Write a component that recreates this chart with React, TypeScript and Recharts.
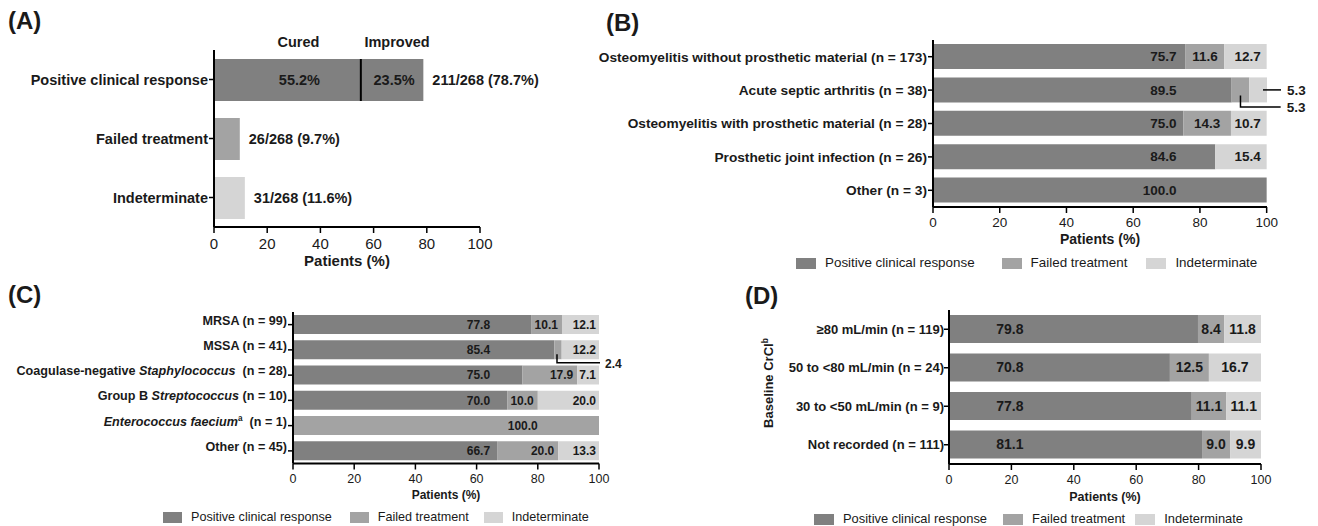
import React from 'react';
import { BarChart, Bar, XAxis, YAxis, LabelList } from 'recharts';

const FONT = '"Liberation Sans", Arial, Helvetica, sans-serif';
const INK = '#1a1a1a';
const C_POS = '#808080';
const C_FAIL = '#a3a3a3';
const C_IND = '#d5d5d5';

const seriesNames = ['Positive clinical response', 'Failed treatment', 'Indeterminate'];
const seriesColors = [C_POS, C_FAIL, C_IND];
const xTicks = [0, 20, 40, 60, 80, 100];

// (A) overall response
const aCategories = ['Positive clinical response', 'Failed treatment', 'Indeterminate'];
const aCured = [55.2, 0, 0];
const aImproved = [23.5, 0, 0];
const aFailed = [0, 9.7, 0];
const aIndeterminate = [0, 0, 11.6];
const aTotals = ['211/268 (78.7%)', '26/268 (9.7%)', '31/268 (11.6%)'];

// (B) by infection type
const bCategories = [
  'Osteomyelitis without prosthetic material (n = 173)',
  'Acute septic arthritis (n = 38)',
  'Osteomyelitis with prosthetic material (n = 28)',
  'Prosthetic joint infection (n = 26)',
  'Other (n = 3)',
];
const bPositive = [75.7, 89.5, 75.0, 84.6, 100.0];
const bFailed = [11.6, 5.3, 14.3, 0, 0];
const bIndeterminate = [12.7, 5.3, 10.7, 15.4, 0];

// (C) by pathogen (*italic*, ^superscript)
const cCategories = [
  'MRSA (n = 99)',
  'MSSA (n = 41)',
  'Coagulase-negative *Staphylococcus*  (n = 28)',
  'Group B *Streptococcus* (n = 10)',
  '*Enterococcus faecium*^a  (n = 1)',
  'Other (n = 45)',
];
const cPositive = [77.8, 85.4, 75.0, 70.0, 0, 66.7];
const cFailed = [10.1, 2.4, 17.9, 10.0, 100.0, 20.0];
const cIndeterminate = [12.1, 12.2, 7.1, 20.0, 0, 13.3];

// (D) by baseline CrCl
const dCategories = [
  '≥80 mL/min  (n = 119)',
  '50 to <80 mL/min  (n = 24)',
  '30 to <50 mL/min  (n = 9)',
  'Not recorded (n = 111)',
];
const dPositive = [79.8, 70.8, 77.8, 81.1];
const dFailed = [8.4, 12.5, 11.1, 9.0];
const dIndeterminate = [11.8, 16.7, 11.1, 9.9];

// end-of-row text goes on whichever segment closes the row
const aRows = aCategories.map((name, i) => ({
  name,
  cured: aCured[i],
  improved: aImproved[i],
  fail: aFailed[i],
  ind: aIndeterminate[i],
  impEnd: aImproved[i] ? aTotals[i] : '',
  failEnd: aFailed[i] ? aTotals[i] : '',
  indEnd: aIndeterminate[i] ? aTotals[i] : '',
}));
const bRows = bCategories.map((name, i) => ({ name, pos: bPositive[i], fail: bFailed[i], ind: bIndeterminate[i] }));
const cRows = cCategories.map((name, i) => ({ name, pos: cPositive[i], fail: cFailed[i], ind: cIndeterminate[i] }));
const dRows = dCategories.map((name, i) => ({ name, pos: dPositive[i], fail: dFailed[i], ind: dIndeterminate[i] }));

function box(p: any) {
  const v = p.viewBox ?? p;
  return { x: Number(v.x), y: Number(v.y), w: Number(v.width), h: Number(v.height) };
}

function txt(x: number, y: number, s: string, anchor: string, size: number) {
  return (
    <text x={x} y={y} dy="0.355em" textAnchor={anchor} fontSize={size} fontWeight="bold" fontFamily={FONT} fill={INK}>
      {s}
    </text>
  );
}

// ---- panel A labels
const aCuredLabel = (p: any) => {
  const { x, y, w, h } = box(p);
  if (!Number(p.value)) return null;
  return (
    <g>
      {txt(x + w / 2 + 11, y - 17, 'Cured', 'middle', 14.5)}
      {txt(x + w / 2 + 12, y + h / 2, `${Number(p.value).toFixed(1)}%`, 'middle', 14.5)}
    </g>
  );
};
const aImprovedLabel = (p: any) => {
  const { x, y, w, h } = box(p);
  if (!Number(p.value)) return null;
  return (
    <g>
      {txt(x + w / 2 + 5, y - 17, 'Improved', 'middle', 14.5)}
      {txt(x + w / 2 + 2, y + h / 2, `${Number(p.value).toFixed(1)}%`, 'middle', 14.5)}
    </g>
  );
};
const aEndLabel = (p: any) => {
  const { x, y, w, h } = box(p);
  if (!p.value) return null;
  return txt(x + w + 9, y + h / 2, String(p.value), 'start', 14.5);
};
const ImprovedShape = (p: any) => {
  if (!p.width) return <g />;
  return (
    <g>
      <rect x={p.x} y={p.y} width={p.width} height={p.height} fill={p.fill} />
      <line x1={p.x} x2={p.x} y1={p.y} y2={p.y + p.height} stroke="#000" strokeWidth={2} />
    </g>
  );
};

// ---- panel B labels
const bPosLabel = (p: any) => {
  const { x, y, w, h } = box(p);
  const v = Number(p.value);
  if (!v) return null;
  return txt(x + (w / v) * 73, y + h / 2, v.toFixed(1), 'end', 13.5);
};
const bFailLabel = (p: any) => {
  const { x, y, w, h } = box(p);
  const v = Number(p.value);
  if (!v) return null;
  if (v >= 6) return txt(x + w / 2, y + h / 2, v.toFixed(1), 'middle', 13.5);
  const ppu = w / v;
  const right = x + (100 - bPositive[p.index]) * ppu;
  const lx = x + w / 2;
  const ly = y + h + 4.5;
  return (
    <g>
      <polyline points={`${lx},${y + h - 7} ${lx},${ly} ${right + 14},${ly}`} fill="none" stroke="#000" strokeWidth={1.5} />
      {txt(right + 20, ly, v.toFixed(1), 'start', 13.5)}
    </g>
  );
};
const bIndLabel = (p: any) => {
  const { x, y, w, h } = box(p);
  const v = Number(p.value);
  if (!v) return null;
  const cy = y + h / 2;
  if (v >= 6) return txt(x + w - 6, cy, v.toFixed(1), 'end', 13.5);
  return (
    <g>
      <line x1={x + w - 4} x2={x + w + 14} y1={cy} y2={cy} stroke="#000" strokeWidth={1.5} />
      {txt(x + w + 20, cy, v.toFixed(1), 'start', 13.5)}
    </g>
  );
};

// ---- panel C labels
const cPosLabel = (p: any) => {
  const { x, y, w, h } = box(p);
  const v = Number(p.value);
  if (!v) return null;
  return txt(x + (w / v) * 64.4, y + h / 2, v.toFixed(1), 'end', 12);
};
const cFailLabel = (p: any) => {
  const { x, y, w, h } = box(p);
  const v = Number(p.value);
  if (!v) return null;
  const ppu = w / v;
  if (v >= 100) return txt(x + 80 * ppu, y + h / 2, v.toFixed(1), 'end', 12);
  if (v >= 3) return txt(x + w - 4, y + h / 2, v.toFixed(1), 'end', 12);
  const right = x + (100 - cPositive[p.index]) * ppu;
  const lx = x + w / 2 - 1;
  const ly = y + h + 3.5;
  return (
    <g>
      <polyline points={`${lx},${y + h - 5} ${lx},${ly} ${right + 1},${ly}`} fill="none" stroke="#000" strokeWidth={1.5} />
      {txt(right + 6, ly + 0.5, v.toFixed(1), 'start', 12)}
    </g>
  );
};
const cIndLabel = (p: any) => {
  const { x, y, w, h } = box(p);
  const v = Number(p.value);
  if (!v) return null;
  return txt(x + w - 3, y + h / 2, v.toFixed(1), 'end', 12);
};

// ---- panel D labels
const dPosLabel = (p: any) => {
  const { x, y, w, h } = box(p);
  const v = Number(p.value);
  if (!v) return null;
  return txt(x + (w / v) * 19.5, y + h / 2, v.toFixed(1), 'middle', 14);
};
const dCenterLabel = (p: any) => {
  const { x, y, w, h } = box(p);
  const v = Number(p.value);
  if (!v) return null;
  return txt(x + w / 2, y + h / 2, v.toFixed(1), 'middle', 14);
};

// category tick with *italic* and ^superscript segments
function RichTick(props: any) {
  const { x, y, payload, fontSize } = props;
  const parts = String(payload.value).split(/(\*[^*]+\*|\^\w)/).filter(s => s !== '');
  const out: React.ReactNode[] = [];
  let raised = false;
  parts.forEach((s, i) => {
    if (s.startsWith('*')) {
      out.push(<tspan key={i} fontStyle="italic" dy={raised ? 5 : 0}>{s.slice(1, -1)}</tspan>);
      raised = false;
    } else if (s.startsWith('^')) {
      out.push(<tspan key={i} fontSize={fontSize * 0.65} dy={-5}>{s.slice(1)}</tspan>);
      raised = true;
    } else {
      out.push(<tspan key={i} dy={raised ? 5 : 0}>{s}</tspan>);
      raised = false;
    }
  });
  return (
    <text x={x} y={y} dy="0.355em" textAnchor="end" fontSize={fontSize} fontWeight="bold" fontFamily={FONT} fill={INK} style={{ whiteSpace: 'pre' }}>
      {out}
    </text>
  );
}

const axisLine = { stroke: '#000', strokeWidth: 2 };
const tickLine = { stroke: '#000', strokeWidth: 1.5 };

function xAxisFor(size: number, titleSize: number, tickMargin: number, offset: number) {
  return (
    <XAxis
      type="number"
      domain={[0, 100]}
      ticks={xTicks}
      interval={0}
      height={40}
      tickSize={6}
      tickMargin={tickMargin}
      axisLine={axisLine}
      tickLine={tickLine}
      tick={{ fill: INK, fontSize: size, fontFamily: FONT }}
      label={{ value: 'Patients (%)', position: 'insideBottom', offset, fill: INK, fontSize: titleSize, fontWeight: 'bold', fontFamily: FONT }}
    />
  );
}

function SwatchLegend({ left, top, fontSize, gaps, swatch }: { left: number; top: number; fontSize: number; gaps: number[]; swatch: number }) {
  return (
    <div style={{ position: 'absolute', left, top: top - 7, height: 14, display: 'flex', alignItems: 'center', fontFamily: FONT, fontSize, color: INK, whiteSpace: 'nowrap', lineHeight: 1 }}>
      {seriesNames.map((n, i) => (
        <div key={n} style={{ display: 'flex', alignItems: 'center', marginRight: gaps[i] ?? 0 }}>
          <span style={{ display: 'inline-block', width: swatch, height: 11, background: seriesColors[i], marginRight: 9 }} />
          <span>{n}</span>
        </div>
      ))}
    </div>
  );
}

function PanelTag({ left, cy, text }: { left: number; cy: number; text: string }) {
  return (
    <div style={{ position: 'absolute', left, top: cy - 12, fontFamily: FONT, fontWeight: 'bold', fontSize: 24, lineHeight: 1, color: INK }}>
      {text}
    </div>
  );
}

export default function App() {
  return (
    <div style={{ position: 'absolute', left: 0, top: 0, width: 1318, height: 526, background: '#fff', overflow: 'hidden' }}>
      <PanelTag left={8} cy={21} text="(A)" />
      <PanelTag left={606} cy={23} text="(B)" />
      <PanelTag left={8} cy={295} text="(C)" />
      <PanelTag left={745} cy={296} text="(D)" />

      <div style={{ position: 'absolute', left: 0, top: 0 }}>
        <BarChart width={560} height={280} data={aRows} layout="vertical" barSize={42} margin={{ top: 50, right: 80, bottom: 13, left: 0 }}>
          {xAxisFor(15, 15, 5, 1.5)}
          <YAxis type="category" dataKey="name" width={214} tickSize={5} tickMargin={1} axisLine={axisLine} tickLine={tickLine}
            tick={{ fill: INK, fontSize: 14.5, fontWeight: 'bold', fontFamily: FONT }} />
          <Bar dataKey="cured" stackId="a" fill={C_POS} isAnimationActive={false}>
            <LabelList dataKey="cured" content={aCuredLabel} />
          </Bar>
          <Bar dataKey="improved" stackId="a" fill={C_POS} shape={ImprovedShape} isAnimationActive={false}>
            <LabelList dataKey="improved" content={aImprovedLabel} />
            <LabelList dataKey="impEnd" content={aEndLabel} />
          </Bar>
          <Bar dataKey="fail" stackId="a" fill={C_FAIL} isAnimationActive={false}>
            <LabelList dataKey="failEnd" content={aEndLabel} />
          </Bar>
          <Bar dataKey="ind" stackId="a" fill={C_IND} isAnimationActive={false}>
            <LabelList dataKey="indEnd" content={aEndLabel} />
          </Bar>
        </BarChart>
      </div>

      <div style={{ position: 'absolute', left: 580, top: 0 }}>
        <BarChart width={738} height={280} data={bRows} layout="vertical" barSize={25} margin={{ top: 40, right: 51, bottom: 33, left: 0 }}>
          {xAxisFor(13.5, 14, 4, 3.5)}
          <YAxis type="category" dataKey="name" width={353} tickSize={5} tickMargin={1} axisLine={axisLine} tickLine={tickLine}
            tick={{ fill: INK, fontSize: 13.7, fontWeight: 'bold', fontFamily: FONT }} />
          <Bar dataKey="pos" stackId="s" fill={C_POS} isAnimationActive={false}>
            <LabelList dataKey="pos" content={bPosLabel} />
          </Bar>
          <Bar dataKey="fail" stackId="s" fill={C_FAIL} isAnimationActive={false}>
            <LabelList dataKey="fail" content={bFailLabel} />
          </Bar>
          <Bar dataKey="ind" stackId="s" fill={C_IND} isAnimationActive={false}>
            <LabelList dataKey="ind" content={bIndLabel} />
          </Bar>
        </BarChart>
      </div>
      <SwatchLegend left={796} top={263} fontSize={13.4} gaps={[27, 19]} swatch={20} />

      <div style={{ position: 'absolute', left: 0, top: 280 }}>
        <BarChart width={640} height={246} data={cRows} layout="vertical" barSize={19} margin={{ top: 32, right: 41, bottom: 22.5, left: 0 }}>
          {xAxisFor(12.5, 12, 5, 5)}
          <YAxis type="category" dataKey="name" width={293} tickSize={5} tickMargin={1} axisLine={axisLine} tickLine={tickLine}
            interval={0} tick={(p: any) => <RichTick {...p} fontSize={12.6} />} />
          <Bar dataKey="pos" stackId="s" fill={C_POS} isAnimationActive={false}>
            <LabelList dataKey="pos" content={cPosLabel} />
          </Bar>
          <Bar dataKey="fail" stackId="s" fill={C_FAIL} isAnimationActive={false}>
            <LabelList dataKey="fail" content={cFailLabel} />
          </Bar>
          <Bar dataKey="ind" stackId="s" fill={C_IND} isAnimationActive={false}>
            <LabelList dataKey="ind" content={cIndLabel} />
          </Bar>
        </BarChart>
      </div>
      <SwatchLegend left={163} top={517} fontSize={12.6} gaps={[18, 15]} swatch={19} />

      <div style={{ position: 'absolute', left: 640, top: 280 }}>
        <BarChart width={678} height={246} data={dRows} layout="vertical" barSize={28} margin={{ top: 30, right: 57, bottom: 22, left: 0 }}>
          {xAxisFor(12.5, 12.5, 5, 3.5)}
          <YAxis type="category" dataKey="name" width={309} tickSize={5} tickMargin={0} axisLine={axisLine} tickLine={tickLine}
            interval={0} tick={{ fill: INK, fontSize: 13, fontWeight: 'bold', fontFamily: FONT, style: { whiteSpace: 'pre' } }}
            label={{
              content: (p: any) => {
                const v = p.viewBox;
                const cx = v.x + 128;
                const cy = v.y + v.height / 2 - 4;
                return (
                  <text x={cx} y={cy} dy="0.355em" transform={`rotate(-90 ${cx} ${cy})`} textAnchor="middle" fontSize={13} fontWeight="bold" fontFamily={FONT} fill={INK}>
                    Baseline CrCl<tspan fontSize={8.5} dy={-5}>b</tspan>
                  </text>
                );
              },
            }} />
          <Bar dataKey="pos" stackId="s" fill={C_POS} isAnimationActive={false}>
            <LabelList dataKey="pos" content={dPosLabel} />
          </Bar>
          <Bar dataKey="fail" stackId="s" fill={C_FAIL} isAnimationActive={false}>
            <LabelList dataKey="fail" content={dCenterLabel} />
          </Bar>
          <Bar dataKey="ind" stackId="s" fill={C_IND} isAnimationActive={false}>
            <LabelList dataKey="ind" content={dCenterLabel} />
          </Bar>
        </BarChart>
      </div>
      <SwatchLegend left={814} top={519} fontSize={12.9} gaps={[16, 10]} swatch={20} />
    </div>
  );
}
